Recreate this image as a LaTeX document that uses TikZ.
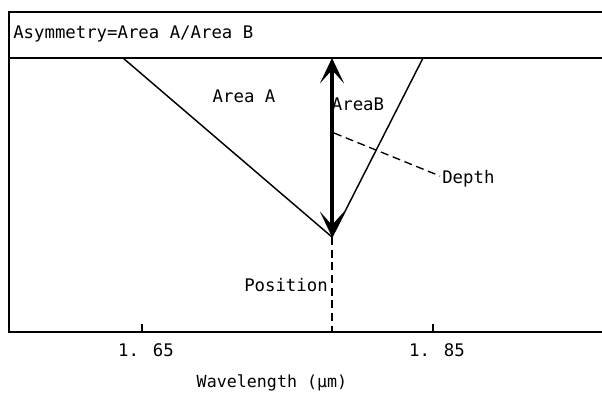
\documentclass[tikz,border=0pt]{standalone}
\usepackage{fontspec}
\setmainfont{DejaVu Sans Mono}
\usetikzlibrary{arrows.meta}
\begin{document}
\begin{tikzpicture}[x=0.75pt,y=-0.75pt,
  frame/.style={line width=1.8pt},
  vline/.style={line width=1.1pt},
  dline/.style={line width=1pt, dash pattern=on 6pt off 3.5pt},
  lab/.style={font=\fontsize{13}{15}\selectfont, inner sep=0pt},
  bigarrow/.style={line width=3pt, {Stealth[length=19pt,width=18pt,inset=10pt]}-{Stealth[length=19pt,width=18pt,inset=10pt]}}]
\useasboundingbox (0,0) rectangle (602,394);
% frame
\coordinate (tl) at (9,12);
\coordinate (tr) at (602,12);
\coordinate (bl) at (9,332);
\coordinate (br) at (602,332);
\coordinate (hl) at (9,58);
\coordinate (hr) at (602,58);
\draw[frame] (tr) -- (tl) -- (bl) -- (br);
\draw[frame] (hl) -- (hr);
\node[lab, anchor=west] (title) at (13,34) {Asymmetry=Area A/Area B};
% V shape
\coordinate (a) at (123,58);
\coordinate (v) at (332,237);
\coordinate (b) at (423,58);
\coordinate (top) at (332,58);
\coordinate (axv) at (332,332);
\draw[vline] (a) -- (v) -- (b);
\draw[bigarrow] (v) -- (top);
\draw[dline] (v) -- (axv);
% depth
\coordinate (d1) at (334,133);
\coordinate (d2) at (440,176);
\draw[dline] (d1) -- (d2);
\node[lab, anchor=west] (depth) at (442,179) {Depth};
\node[lab] (areaA) at (244,96) {Area A};
\node[lab] (areaB) at (358,104) {AreaB};
\node[lab, anchor=east] (pos) at (328,285) {Position};
% ticks
\coordinate (t1) at (142,332);
\coordinate (t1t) at (142,324);
\coordinate (t2) at (433,332);
\coordinate (t2t) at (433,324);
\draw[vline] (t1) -- (t1t);
\draw[vline] (t2) -- (t2t);
\node[lab] (l1) at (146,350) {1. 65};
\node[lab, font=\fontsize{12.5}{15}\selectfont] (xl) at (272,383) {Wavelength (μm)};
\node[lab] (l2) at (437,350) {1. 85};
\end{tikzpicture}
\end{document}
